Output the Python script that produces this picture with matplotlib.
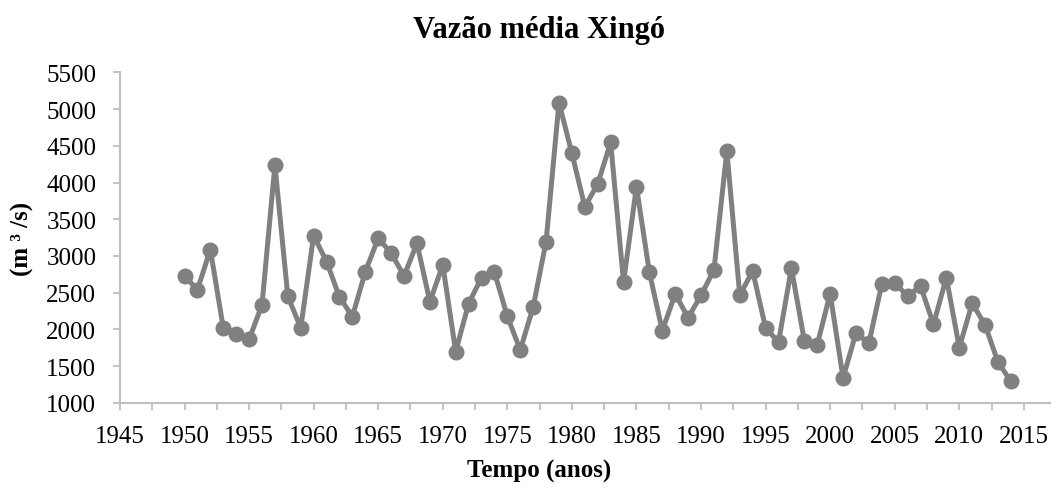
import numpy as np
import matplotlib
matplotlib.use('Agg')
from matplotlib import pyplot as plt
from matplotlib.ticker import MultipleLocator

# annual mean flow at Xingo (m3/s)
anos = list(range(1950, 2015))
vazao = [2728, 2542, 3087, 2021, 1943, 1866, 2334, 4239, 2452, 2021,
         3277, 2923, 2442, 2175, 2787, 3241, 3041, 2728, 3173, 2379,
         2878, 1699, 2352, 2706, 2778, 2179, 1721, 2306, 3195, 5087,
         4397, 3672, 3980, 4547, 2642, 3944, 2778, 1984, 2483, 2161,
         2465, 2810, 4429, 2465, 2796, 2021, 1826, 2833, 1848, 1794,
         2488, 1340, 1953, 1812, 2619, 2633, 2456, 2592, 2070, 2706,
         1753, 2356, 2061, 1553, 1295]

titulo = 'Vazão média Xingó'
xlab = 'Tempo (anos)'
ylab = '(m ³ /s)'

plt.rcParams['font.family'] = ['Liberation Serif', 'DejaVu Serif']

fig = plt.figure(figsize=(10.56, 4.89), dpi=100)
ax = fig.add_axes([0.1136, 0.174, 0.8804, 0.676])

ax.plot(anos, vazao, color='#808080', lw=3.6, marker='o', ms=10.5,
        solid_joinstyle='round')

ax.set_xlim(1945, 2017)
ax.set_ylim(1000, 5500)
ax.set_xticks(range(1945, 2016, 5))
ax.xaxis.set_minor_locator(MultipleLocator(2.5))
ax.set_yticks(range(1000, 5501, 500))

for s in ['top', 'right']:
    ax.spines[s].set_visible(False)
for s in ['left', 'bottom']:
    ax.spines[s].set_color('#bfbfbf')
    ax.spines[s].set_linewidth(1.5)

ax.tick_params(which='both', color='#bfbfbf', width=1.3, length=5,
               labelsize=18, pad=11)
ax.tick_params(axis='y', pad=12)

fig.text(0.51, 0.938, titulo, fontsize=22, fontweight='bold',
         ha='center', va='center')
fig.text(0.511, 0.035, xlab, fontsize=18, fontweight='bold',
         ha='center', va='center')
fig.text(0.021, 0.512, ylab, fontsize=18, fontweight='bold',
         ha='center', va='center', rotation=90)

fig.savefig('out.png', dpi=100)
